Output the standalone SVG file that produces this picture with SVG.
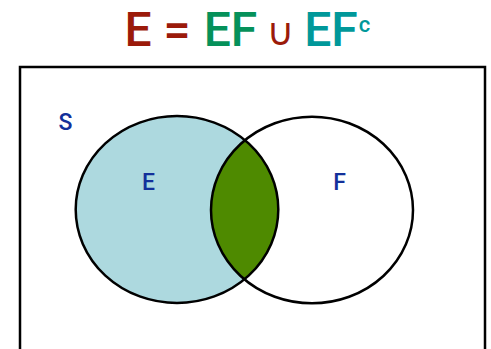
<svg xmlns="http://www.w3.org/2000/svg" width="491" height="349" viewBox="0 0 491 349">
<style>
.t{font-family:Roboto,"Open Sans",sans-serif;font-size:48px;font-weight:500;text-anchor:middle}
.red{fill:#9b1a0a}
.grn{fill:#05915a}
.teal{fill:#00989a}
.lbl{font-family:Roboto,"Open Sans",sans-serif;font-size:23px;font-weight:500;fill:#13309a;text-anchor:middle}
.edge{fill:none;stroke:#000;stroke-width:2.5}
</style>
<defs>
<clipPath id="clipE"><ellipse cx="177" cy="209.5" rx="101.3" ry="93.5"/></clipPath>
</defs>
<g id="title">
<text class="t red" x="138" y="46">E</text>
<text class="t red" x="177" y="46">=</text>
<text class="t grn" x="230.5" y="46">EF</text>
<text class="red" x="280.5" y="45" style="font-family:'DejaVu Sans',sans-serif;font-size:38px;text-anchor:middle">∪</text>
<text class="t teal" x="331" y="46">EF</text>
<text class="teal" x="364.5" y="32" style="font-family:Roboto,sans-serif;font-size:22px;font-weight:500;text-anchor:middle">c</text>
</g>
<g id="S">
<rect x="20" y="67" width="465" height="300" fill="#fff" stroke="#000" stroke-width="2.5"/>
<text class="lbl" x="65.5" y="130">S</text>
</g>
<g id="E">
<ellipse cx="177" cy="209.5" rx="101.3" ry="93.5" fill="#add9df"/>
</g>
<g id="EF">
<ellipse cx="312" cy="210" rx="101" ry="93.3" fill="#4e8a00" clip-path="url(#clipE)"/>
</g>
<g id="F">
<ellipse class="edge" cx="312" cy="210" rx="101" ry="93.3"/>
<text class="lbl" x="339.5" y="189.5">F</text>
</g>
<g id="Eedge">
<ellipse class="edge" cx="177" cy="209.5" rx="101.3" ry="93.5"/>
<text class="lbl" x="148.5" y="189.5">E</text>
</g>
</svg>
